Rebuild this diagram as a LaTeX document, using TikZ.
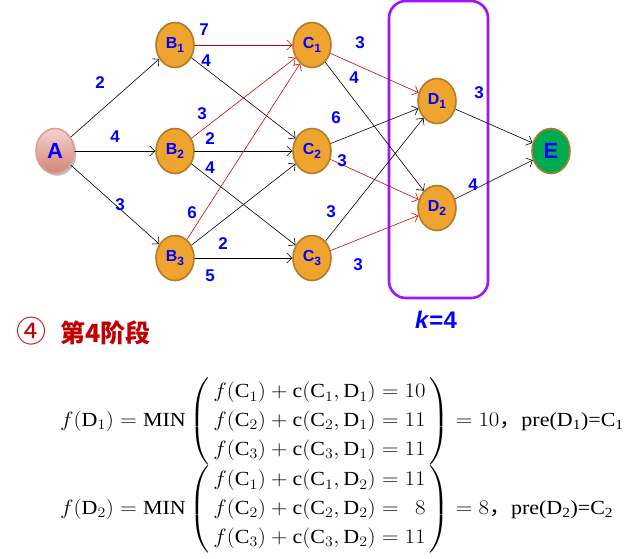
\documentclass[tikz,border=0pt]{standalone}
\usepackage{amsmath}
\usepackage{graphicx}
\usepackage{fontspec}
\setmainfont{Liberation Serif}
\newfontfamily\labelfont{Liberation Sans}
\newfontfamily\cjk{Noto Sans CJK SC}
\usetikzlibrary{arrows.meta,shapes.geometric,shadows}

\definecolor{stageorange}{RGB}{240,164,48}
\definecolor{stageedge}{RGB}{176,124,40}
\definecolor{sinkgreen}{RGB}{0,170,80}
\definecolor{optred}{RGB}{210,0,0}
\definecolor{boxpurple}{RGB}{160,20,250}
\definecolor{stagered}{RGB}{192,0,0}

\newcommand{\sub}[1]{\raisebox{-3.5pt}{\fontsize{12}{12}\selectfont #1}}

\begin{document}
\begin{tikzpicture}[x=1pt,y=-1pt,>={Straight Barb[length=5pt,width=10pt]},
    line cap=round,line join=round,
    vertex/.style={ellipse,minimum width=38pt,minimum height=45pt,inner sep=0pt,
      line width=1.6pt,font=\labelfont\bfseries\fontsize{16}{16}\selectfont,text=blue},
    stagevertex/.style={vertex,draw=stageedge,fill=stageorange},
    arc/.style={->,line width=.6pt},
    optarc/.style={->,line width=.6pt,draw=optred},
    wt/.style={font=\labelfont\bfseries\fontsize{17}{17}\selectfont,text=blue,inner sep=0pt}]
    \useasboundingbox (0,0) rectangle (637,558);

    % The stage box round D_1 and D_2.
    \draw[boxpurple,line width=2.6pt,rounded corners=17pt] (389,1) rectangle (488,298);
    \node[font=\labelfont\bfseries\fontsize{24}{24}\selectfont,text=blue] (klab) at (436,320)
      {\textit{k}=4};

    % The vertices of the network.
    \node[vertex,draw={rgb,255:red,215;green,160;blue,150},
      top color={rgb,255:red,245;green,212;blue,206},bottom color={rgb,255:red,212;green,130;blue,118},
      drop shadow,font=\labelfont\bfseries\fontsize{22}{22}\selectfont] (A) at (55,151) {A};
    \node[stagevertex] (B1) at (175,45) {B\sub{1}};
    \node[stagevertex] (B2) at (175,151) {B\sub{2}};
    \node[stagevertex] (B3) at (175,258) {B\sub{3}};
    \node[stagevertex] (C1) at (312,45) {C\sub{1}};
    \node[stagevertex] (C2) at (312,151) {C\sub{2}};
    \node[stagevertex] (C3) at (312,258) {C\sub{3}};
    \node[stagevertex] (D1) at (437,101) {D\sub{1}};
    \node[stagevertex] (D2) at (437,208) {D\sub{2}};
    \node[vertex,draw=stageedge,fill=sinkgreen,
      font=\labelfont\bfseries\fontsize{22}{22}\selectfont] (E) at (551,151) {E};

    % Arcs of the first three stages.
    \draw[arc] (A) -- (B1);
    \draw[arc] (A) -- (B2);
    \draw[arc] (A) -- (B3);
    \draw[optarc] (B1) -- (C1);
    \draw[arc] (B1) -- (C2);
    \draw[optarc] (B2) -- (C1);
    \draw[arc] (B2) -- (C2);
    \draw[arc] (B2) -- (C3);
    \draw[optarc] (B3) -- (C1);
    \draw[arc] (B3) -- (C2);
    \draw[arc] (B3) -- (C3);

    % Arcs into and out of stage 4.
    \draw[optarc] (C1) -- (D1);
    \draw[arc] (C1) -- (D2);
    \draw[arc] (C2) -- (D1);
    \draw[optarc] (C2) -- (D2);
    \draw[arc] (C3) -- (D1);
    \draw[optarc] (C3) -- (D2);
    \draw[arc] (D1) -- (E);
    \draw[arc] (D2) -- (E);

    % Arc lengths.
    \node[wt] (wAB1) at (100,83) {2};
    \node[wt] (wAB2) at (115,137) {4};
    \node[wt] (wAB3) at (120,205) {3};
    \node[wt] (wB1C1) at (204,30) {7};
    \node[wt] (wB1C2) at (206,61) {4};
    \node[wt] (wB2C1) at (202,114) {3};
    \node[wt] (wB2C2) at (210,139) {2};
    \node[wt] (wB2C3) at (210,168) {4};
    \node[wt] (wB3C1) at (192,213) {6};
    \node[wt] (wB3C2) at (223,244) {2};
    \node[wt] (wB3C3) at (210,276) {5};
    \node[wt] (wC1D1) at (360,43) {3};
    \node[wt] (wC1D2) at (354,78) {4};
    \node[wt] (wC2D1) at (336,118) {6};
    \node[wt] (wC2D2) at (342,161) {3};
    \node[wt] (wC3D1) at (331,212) {3};
    \node[wt] (wC3D2) at (358,265) {3};
    \node[wt] (wD1E) at (479,93) {3};
    \node[wt] (wD2E) at (473,185) {4};

    % Stage heading and the two recursions.
    \node[anchor=west,text=stagered,inner sep=0pt] (head) at (16,331)
      {\cjk{\fontsize{30}{30}\selectfont ④}\hspace{14pt}\fontsize{25}{25}\selectfont\bfseries 第4阶段};
    \node[anchor=west,inner sep=0pt] (fD1) at (60,421) {\scalebox{1.1}[1]{\fontsize{20}{24}\selectfont
      \delimitershortfall=12pt
      $\renewcommand\arraystretch{1.2}
      f(\mathrm{D}_1)=\mathrm{MIN}\left(\begin{array}{@{\,}l@{}r@{\,}}
        f(\mathrm{C}_1)+\mathrm{c}(\mathrm{C}_1,\mathrm{D}_1)={} & 10\\
        f(\mathrm{C}_2)+\mathrm{c}(\mathrm{C}_2,\mathrm{D}_1)={} & 11\\
        f(\mathrm{C}_3)+\mathrm{c}(\mathrm{C}_3,\mathrm{D}_1)={} & 11
      \end{array}\right)=10\text{\cjk ，}\mbox{pre(D\textsubscript{1})=C\textsubscript{1}}$}};
    \node[anchor=west,inner sep=0pt] (fD2) at (60,509) {\scalebox{1.1}[1]{\fontsize{20}{24}\selectfont
      \delimitershortfall=12pt
      $\renewcommand\arraystretch{1.2}
      f(\mathrm{D}_2)=\mathrm{MIN}\left(\begin{array}{@{\,}l@{}r@{\,}}
        f(\mathrm{C}_1)+\mathrm{c}(\mathrm{C}_1,\mathrm{D}_2)={} & 11\\
        f(\mathrm{C}_2)+\mathrm{c}(\mathrm{C}_2,\mathrm{D}_2)={} & 8\\
        f(\mathrm{C}_3)+\mathrm{c}(\mathrm{C}_3,\mathrm{D}_2)={} & 11
      \end{array}\right)=8\text{\cjk ，}\mbox{pre(D\textsubscript{2})=C\textsubscript{2}}$}};
  \end{tikzpicture}
\end{document}
